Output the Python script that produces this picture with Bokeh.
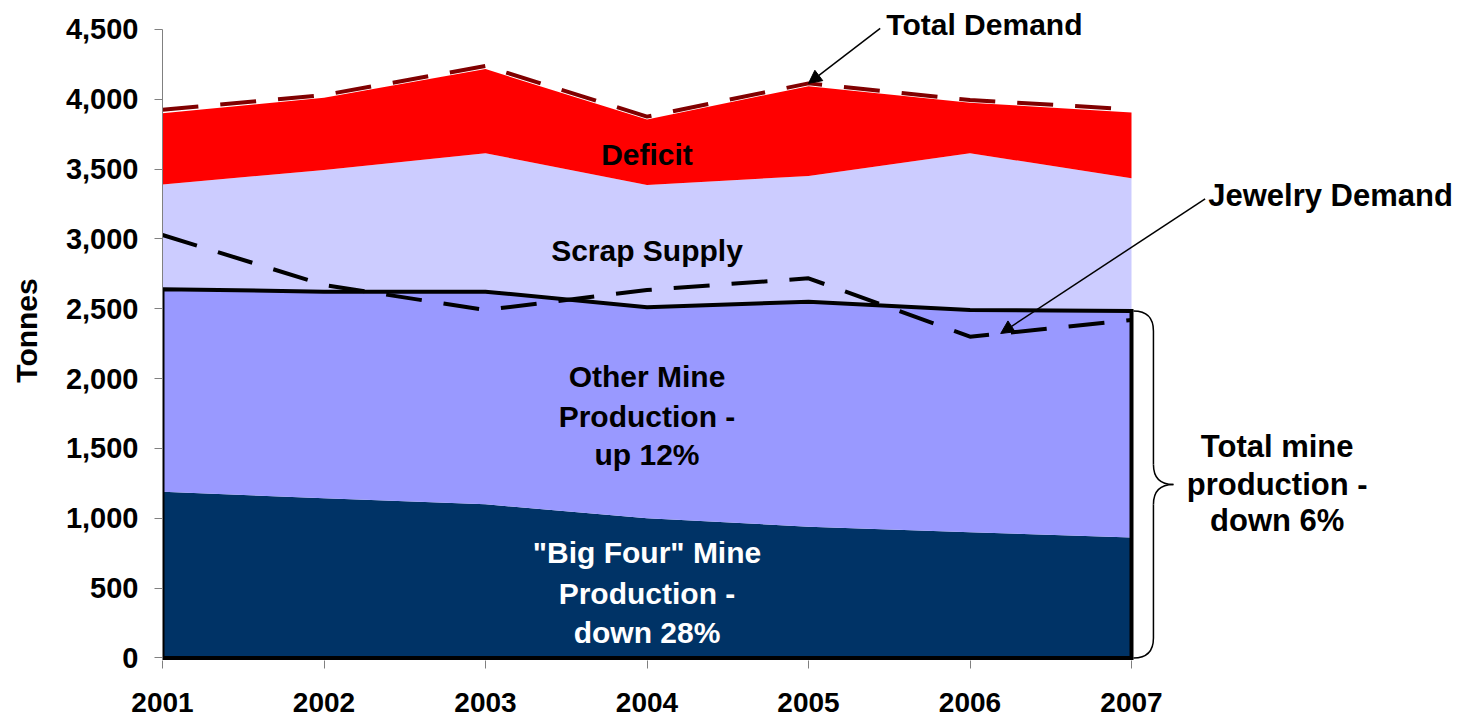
import numpy as np
from bokeh.plotting import figure
from bokeh.models import (ColumnDataSource, Range1d, FixedTicker, NumeralTickFormatter,
                          Arrow, NormalHead)
from bokeh.core.properties import value
from bokeh.embed import file_html
from bokeh.resources import INLINE

# ---------------- data (tonnes) ----------------
years = [2001, 2002, 2003, 2004, 2005, 2006, 2007]
big_four = [1190, 1143, 1100, 1000, 940, 900, 862]
other_mine = [1450, 1479, 1522, 1510, 1610, 1591, 1622]
scrap = [750, 871, 991, 876, 900, 1122, 950]
deficit = [510, 517, 602, 469, 643, 362, 471]
total_demand = [3924, 4030, 4237, 3875, 4113, 3994, 3927]
jewelry_demand = [3028, 2670, 2491, 2634, 2718, 2300, 2419]
y_ticks = [0, 500, 1000, 1500, 2000, 2500, 3000, 3500, 4000, 4500]

total_mine = list(np.array(big_four) + np.array(other_mine))

FONT = value("Liberation Sans")
NAVY = "#003366"
OTHER = "#9999FF"
SCRAP = "#CCCCFF"
RED = "#FF0000"
MAROON = "#800000"

W, H = 1466, 718
p = figure(width=W, height=H,
           x_range=Range1d(2001, 2001 + (W - 162) / 161.5),
           y_range=Range1d(-17.9, 657.5 / 0.139711),
           output_backend="svg", toolbar_location=None,
           min_border_left=162, min_border_right=0, min_border_top=0,
           min_border_bottom=H - 660)
p.xgrid.visible = False
p.ygrid.visible = False
p.outline_line_color = None
p.background_fill_color = "white"
p.border_fill_color = "white"

# ---------------- axes ----------------
xa = p.xaxis[0]
xa.ticker = FixedTicker(ticks=years)
xa.bounds = (2001, 2007)
xa.axis_line_color = None
xa.major_tick_line_color = "#808080"
xa.major_tick_out = 8
xa.major_tick_in = 0
xa.minor_tick_line_color = None
xa.major_label_text_font = "Liberation Sans"
xa.major_label_text_font_size = "28px"
xa.major_label_text_font_style = "bold"
xa.major_label_text_color = "black"
xa.major_label_standoff = 24

ya = p.yaxis[0]
ya.ticker = FixedTicker(ticks=y_ticks)
ya.formatter = NumeralTickFormatter(format="0,0")
ya.bounds = (0, 4500)
ya.axis_line_color = "#808080"
ya.axis_line_width = 1
ya.major_tick_line_color = "#808080"
ya.major_tick_out = 8
ya.major_tick_in = 0
ya.minor_tick_line_color = None
ya.major_label_text_font = "Liberation Sans"
ya.major_label_text_font_size = "29px"
ya.major_label_text_font_style = "bold"
ya.major_label_text_color = "black"
ya.major_label_standoff = 16
ya.axis_label = "Tonnes"
ya.axis_label_text_font = "Liberation Sans"
ya.axis_label_text_font_size = "30px"
ya.axis_label_text_font_style = "bold"
ya.axis_label_text_color = "black"
ya.axis_label_standoff = 20

# ---------------- stacked areas ----------------
src = ColumnDataSource(dict(year=years, big_four=big_four, other_mine=other_mine,
                            scrap=scrap, deficit=deficit))
p.varea_stack(["big_four", "other_mine", "scrap", "deficit"], x="year",
              color=[NAVY, OTHER, SCRAP, RED], source=src)

# outline of total mine production
p.patch([years[0]] + years + [years[-1]], [0] + total_mine + [0],
        fill_color=None, line_color="black", line_width=4, line_join="miter")

# dashed lines
p.line(years, total_demand, line_color=MAROON, line_width=4, line_dash="36 22")
p.line(years, jewelry_demand, line_color="black", line_width=4, line_dash="36 22")

# ---------------- text labels ----------------
def add_text(xs, ys, texts, color, align="center", size="30px"):
    p.text(x=xs, y=ys, text=texts, text_font=FONT, text_font_style="bold",
           text_font_size=size, text_color=color, text_align=align,
           text_baseline="middle")

add_text([2004.0], [3603], ["Deficit"], "black")
add_text([2004.0], [2920], ["Scrap Supply"], "black")
add_text([2004.0] * 3, [2015, 1728, 1457], ["Other Mine", "Production -", "up 12%"], "black")
add_text([2004.0] * 3, [757, 465, 185], ['"Big Four" Mine', "Production -", "down 28%"], "white")
add_text([2007.902] * 3, [1514, 1242, 984], ["Total mine", "production -", "down 6%"], "black",
         size="31px")
add_text([2005.482], [4531], ["Total Demand"], "black", align="left")
add_text([2007.475], [3307], ["Jewelry Demand"], "black", align="left", size="31px")

# ---------------- arrows ----------------
p.add_layout(Arrow(end=NormalHead(size=13, fill_color="black", line_color="black"),
                   x_start=2005.444, y_start=4506, x_end=years[4], y_end=total_demand[4],
                   line_width=1.5, line_color="black"))
jx = 2006.19
p.add_layout(Arrow(end=NormalHead(size=13, fill_color="black", line_color="black"),
                   x_start=2007.456, y_start=3287, x_end=jx,
                   y_end=float(np.interp(jx, years, jewelry_demand)),
                   line_width=1.5, line_color="black"))

# ---------------- brace ----------------
bx0 = 2007.012
bx1 = bx0 + 20 / 161.5
bx2 = bx0 + 40 / 161.5
r = 143
top = total_mine[-1]
bot = 0
mid = (top + bot) / 2
p.quadratic(x0=[bx0, bx1, bx2, bx1], y0=[top, mid + r, mid, bot + r],
            x1=[bx1, bx2, bx1, bx0], y1=[top - r, mid, mid - r, bot],
            cx=[bx1, bx1, bx1, bx1], cy=[top, mid, mid, bot],
            line_color="black", line_width=1.5)
p.segment(x0=[bx1, bx1], y0=[top - r, mid - r], x1=[bx1, bx1], y1=[mid + r, bot + r],
          line_color="black", line_width=1.5)

open("out.html", "w").write(file_html(p, INLINE))
